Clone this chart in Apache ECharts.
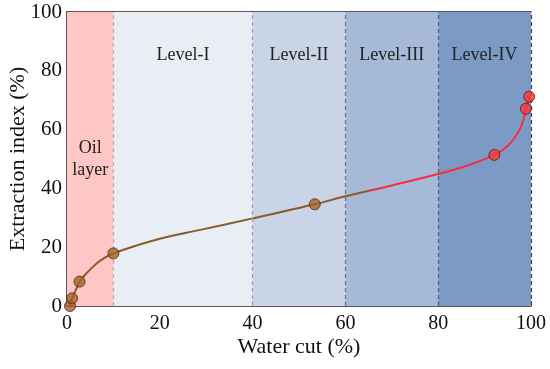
<!DOCTYPE html>
<html>
<head>
<meta charset="utf-8">
<script src="https://cdn.jsdelivr.net/npm/echarts@6/dist/echarts.min.js"></script>
<style>html,body{margin:0;padding:0;background:#fff;}#c{width:550px;height:369px;}</style>
</head>
<body>
<div id="c"></div>
<script>
// Measured points (water cut %, extraction index %)
const brownPoints = [[0.65, 0], [1.1, 2.6], [2.7, 8.3], [10, 17.9], [53.4, 34.6]];
const redPoints = [[92.1, 51.4], [98.9, 67.1], [99.6, 71.2]];
// Fitted curve
const curveX = [0.65, 1.1, 2, 2.7, 4, 5, 6.5, 8, 10, 15, 20, 28.7, 40, 53.4, 60, 70, 80, 86, 92.1, 95, 97, 98.2, 98.9, 99.3, 99.6];
const curveY = [0, 2.6, 5.8, 8.3, 10.8, 12.4, 14.6, 16.3, 17.9, 20.6, 22.9, 25.9, 29.8, 34.6, 37.3, 41.0, 44.9, 47.6, 51.4, 54.5, 58.5, 62.5, 67.1, 69.5, 71.2];
// Zones
const zoneNames = ['Oil\nlayer', 'Level-I', 'Level-II', 'Level-III', 'Level-IV'];
const zoneBounds = [0, 10, 40, 60, 80, 100];
const zoneColors = ['#ffc6c6', '#e9eef4', '#c9d4e6', '#a6b9d7', '#7b9bc6'];
const boundaryColors = ['#b0b0b0', '#9a9ea6', '#6a6e78', '#555a64', '#444'];
const colorSwitchX = 65;

const FONT = 'Liberation Serif';
const chart = echarts.init(document.getElementById('c'));

const areas = zoneNames.map((n, i) => [
  { xAxis: zoneBounds[i], yAxis: 0, itemStyle: { color: zoneColors[i] },
    label: i === 0
      ? { show: true, position: 'inside', formatter: n, fontFamily: FONT, fontSize: 18, color: '#222', lineHeight: 22 }
      : { show: true, position: 'insideTop', distance: 34, formatter: n, fontFamily: FONT, fontSize: 18, color: '#222' } },
  { xAxis: zoneBounds[i + 1], yAxis: 100 }
]);
const lines = zoneBounds.slice(1).map((b, i) => ({ xAxis: b, lineStyle: { color: boundaryColors[i], type: [4, 3], width: 1.2 } }));

const x0 = curveX[0], x1 = curveX[curveX.length - 1];
const sw = (colorSwitchX - x0) / (x1 - x0);
const brown = '#8a5a2c', red = '#f2303c';

chart.setOption({
  animation: false,
  grid: { left: 67, right: 19, top: 12, bottom: 63, outerBoundsMode: 'none', containLabel: false },
  xAxis: [{
    type: 'value', min: 0, max: 100, interval: 20,
    name: 'Water cut (%)', nameLocation: 'middle', nameGap: 30, nameMoveOverlap: false,
    nameTextStyle: { fontFamily: FONT, fontSize: 22, color: '#111' },
    axisLine: { lineStyle: { color: '#222', width: 1.5 } },
    axisTick: { inside: true, length: 5, lineStyle: { color: '#333' } },
    axisLabel: { fontFamily: FONT, fontSize: 20, color: '#111', margin: 8 },
    splitLine: { show: false }
  }, {
    type: 'value', min: 0, max: 100, position: 'top',
    axisLine: { show: true, onZero: false, lineStyle: { color: '#222', width: 1.5 } },
    axisTick: { show: false }, axisLabel: { show: false }, splitLine: { show: false }
  }],
  yAxis: {
    type: 'value', min: 0, max: 100, interval: 20,
    name: 'Extraction index (%)', nameLocation: 'middle', nameGap: 38, nameMoveOverlap: false,
    nameTextStyle: { fontFamily: FONT, fontSize: 22, color: '#111' },
    axisLine: { show: true, lineStyle: { color: '#222', width: 1.5 } },
    axisTick: { show: true, inside: true, length: 5, lineStyle: { color: '#333' } },
    axisLabel: { fontFamily: FONT, fontSize: 21, color: '#111', margin: 5 },
    splitLine: { show: false }
  },
  series: [{
    type: 'line', smooth: 0.35, showSymbol: false, z: 3,
    data: curveX.map((x, i) => [x, curveY[i]]),
    lineStyle: { width: 2, color: { type: 'linear', x: 0, y: 0, x2: 1, y2: 0,
      colorStops: [{ offset: 0, color: brown }, { offset: sw, color: brown }, { offset: sw, color: red }, { offset: 1, color: red }] } },
    markArea: { silent: true, data: areas },
    markLine: { silent: true, symbol: 'none', label: { show: false }, data: lines }
  }, {
    type: 'scatter', z: 5, symbolSize: 11, data: brownPoints,
    itemStyle: { color: '#a4632a', borderColor: '#4a2410', borderWidth: 1 }
  }, {
    type: 'scatter', z: 5, symbolSize: 11, data: redPoints,
    itemStyle: { color: '#f23a3a', borderColor: '#701010', borderWidth: 1 }
  }]
});
</script>
</body>
</html>
